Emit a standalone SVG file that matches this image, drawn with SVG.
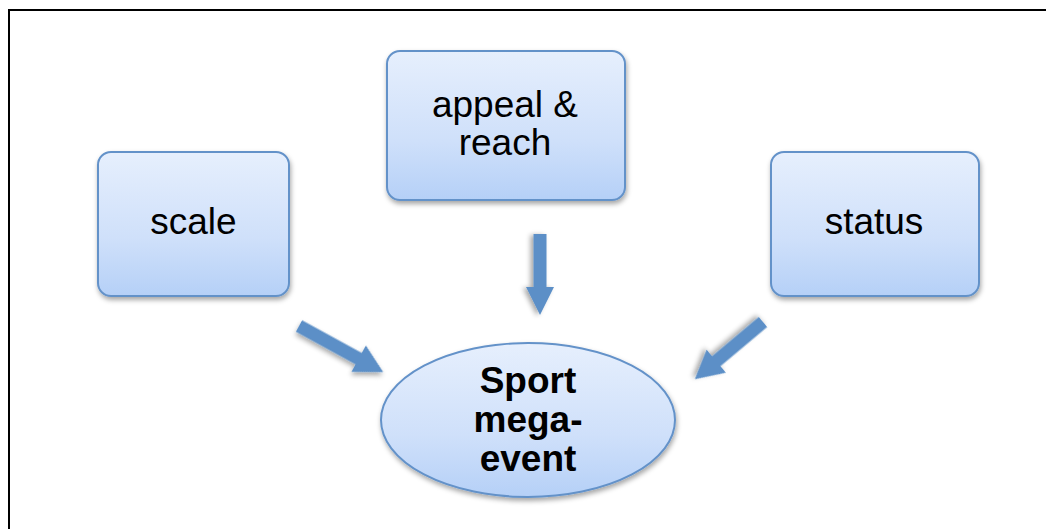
<svg xmlns="http://www.w3.org/2000/svg" width="1046" height="529" viewBox="0 0 1046 529">
<defs>
<linearGradient id="g" x1="0" y1="0" x2="0" y2="1">
<stop offset="0" stop-color="#e6effd"/>
<stop offset="0.6" stop-color="#cfe0fa"/>
<stop offset="1" stop-color="#b5d0f7"/>
</linearGradient>
<filter id="sh" x="-20%" y="-20%" width="140%" height="150%">
<feDropShadow dx="1" dy="3" stdDeviation="2.5" flood-color="#000" flood-opacity="0.35"/>
</filter>
<style>
.box{fill:url(#g);stroke:#6492c9;stroke-width:2;filter:url(#sh)}
.t{font-family:"Liberation Sans",Arial,sans-serif;font-size:37px;fill:#000;text-anchor:middle}
.b{font-weight:bold}
.arr{fill:#5b8fc7;filter:url(#sh)}
</style>
</defs>
<rect width="1046" height="529" fill="#fff"/>
<rect x="9" y="10" width="1060" height="540" fill="none" stroke="#000" stroke-width="2"/>
<g id="connectors">
<path class="arr" transform="translate(299,326) rotate(28.7)" d="M0,-6.5 H68 V-15 L96,0 L68,15 V6.5 H0 Z"/>
<path class="arr" transform="translate(540,234) rotate(90)" d="M0,-6.5 H53 V-14 L81,0 L53,14 V6.5 H0 Z"/>
<path class="arr" transform="translate(763,322) rotate(140)" d="M0,-6.5 H61 V-15 L89,0 L61,15 V6.5 H0 Z"/>
</g>
<g id="scale">
<rect class="box" x="98" y="152" width="191" height="144" rx="13"/>
<text class="t" x="193.5" y="234">scale</text>
</g>
<g id="appeal">
<rect class="box" x="387" y="51" width="238" height="149" rx="13"/>
<text class="t" x="505" y="117">appeal &amp;</text>
<text class="t" x="505" y="155">reach</text>
</g>
<g id="status">
<rect class="box" x="771" y="152" width="208" height="144" rx="13"/>
<text class="t" x="874" y="234">status</text>
</g>
<g id="sport">
<ellipse class="box" cx="528" cy="420" rx="147" ry="77"/>
<text class="t b" x="528" y="393">Sport</text>
<text class="t b" x="528" y="432">mega-</text>
<text class="t b" x="528" y="471">event</text>
</g>
</svg>
